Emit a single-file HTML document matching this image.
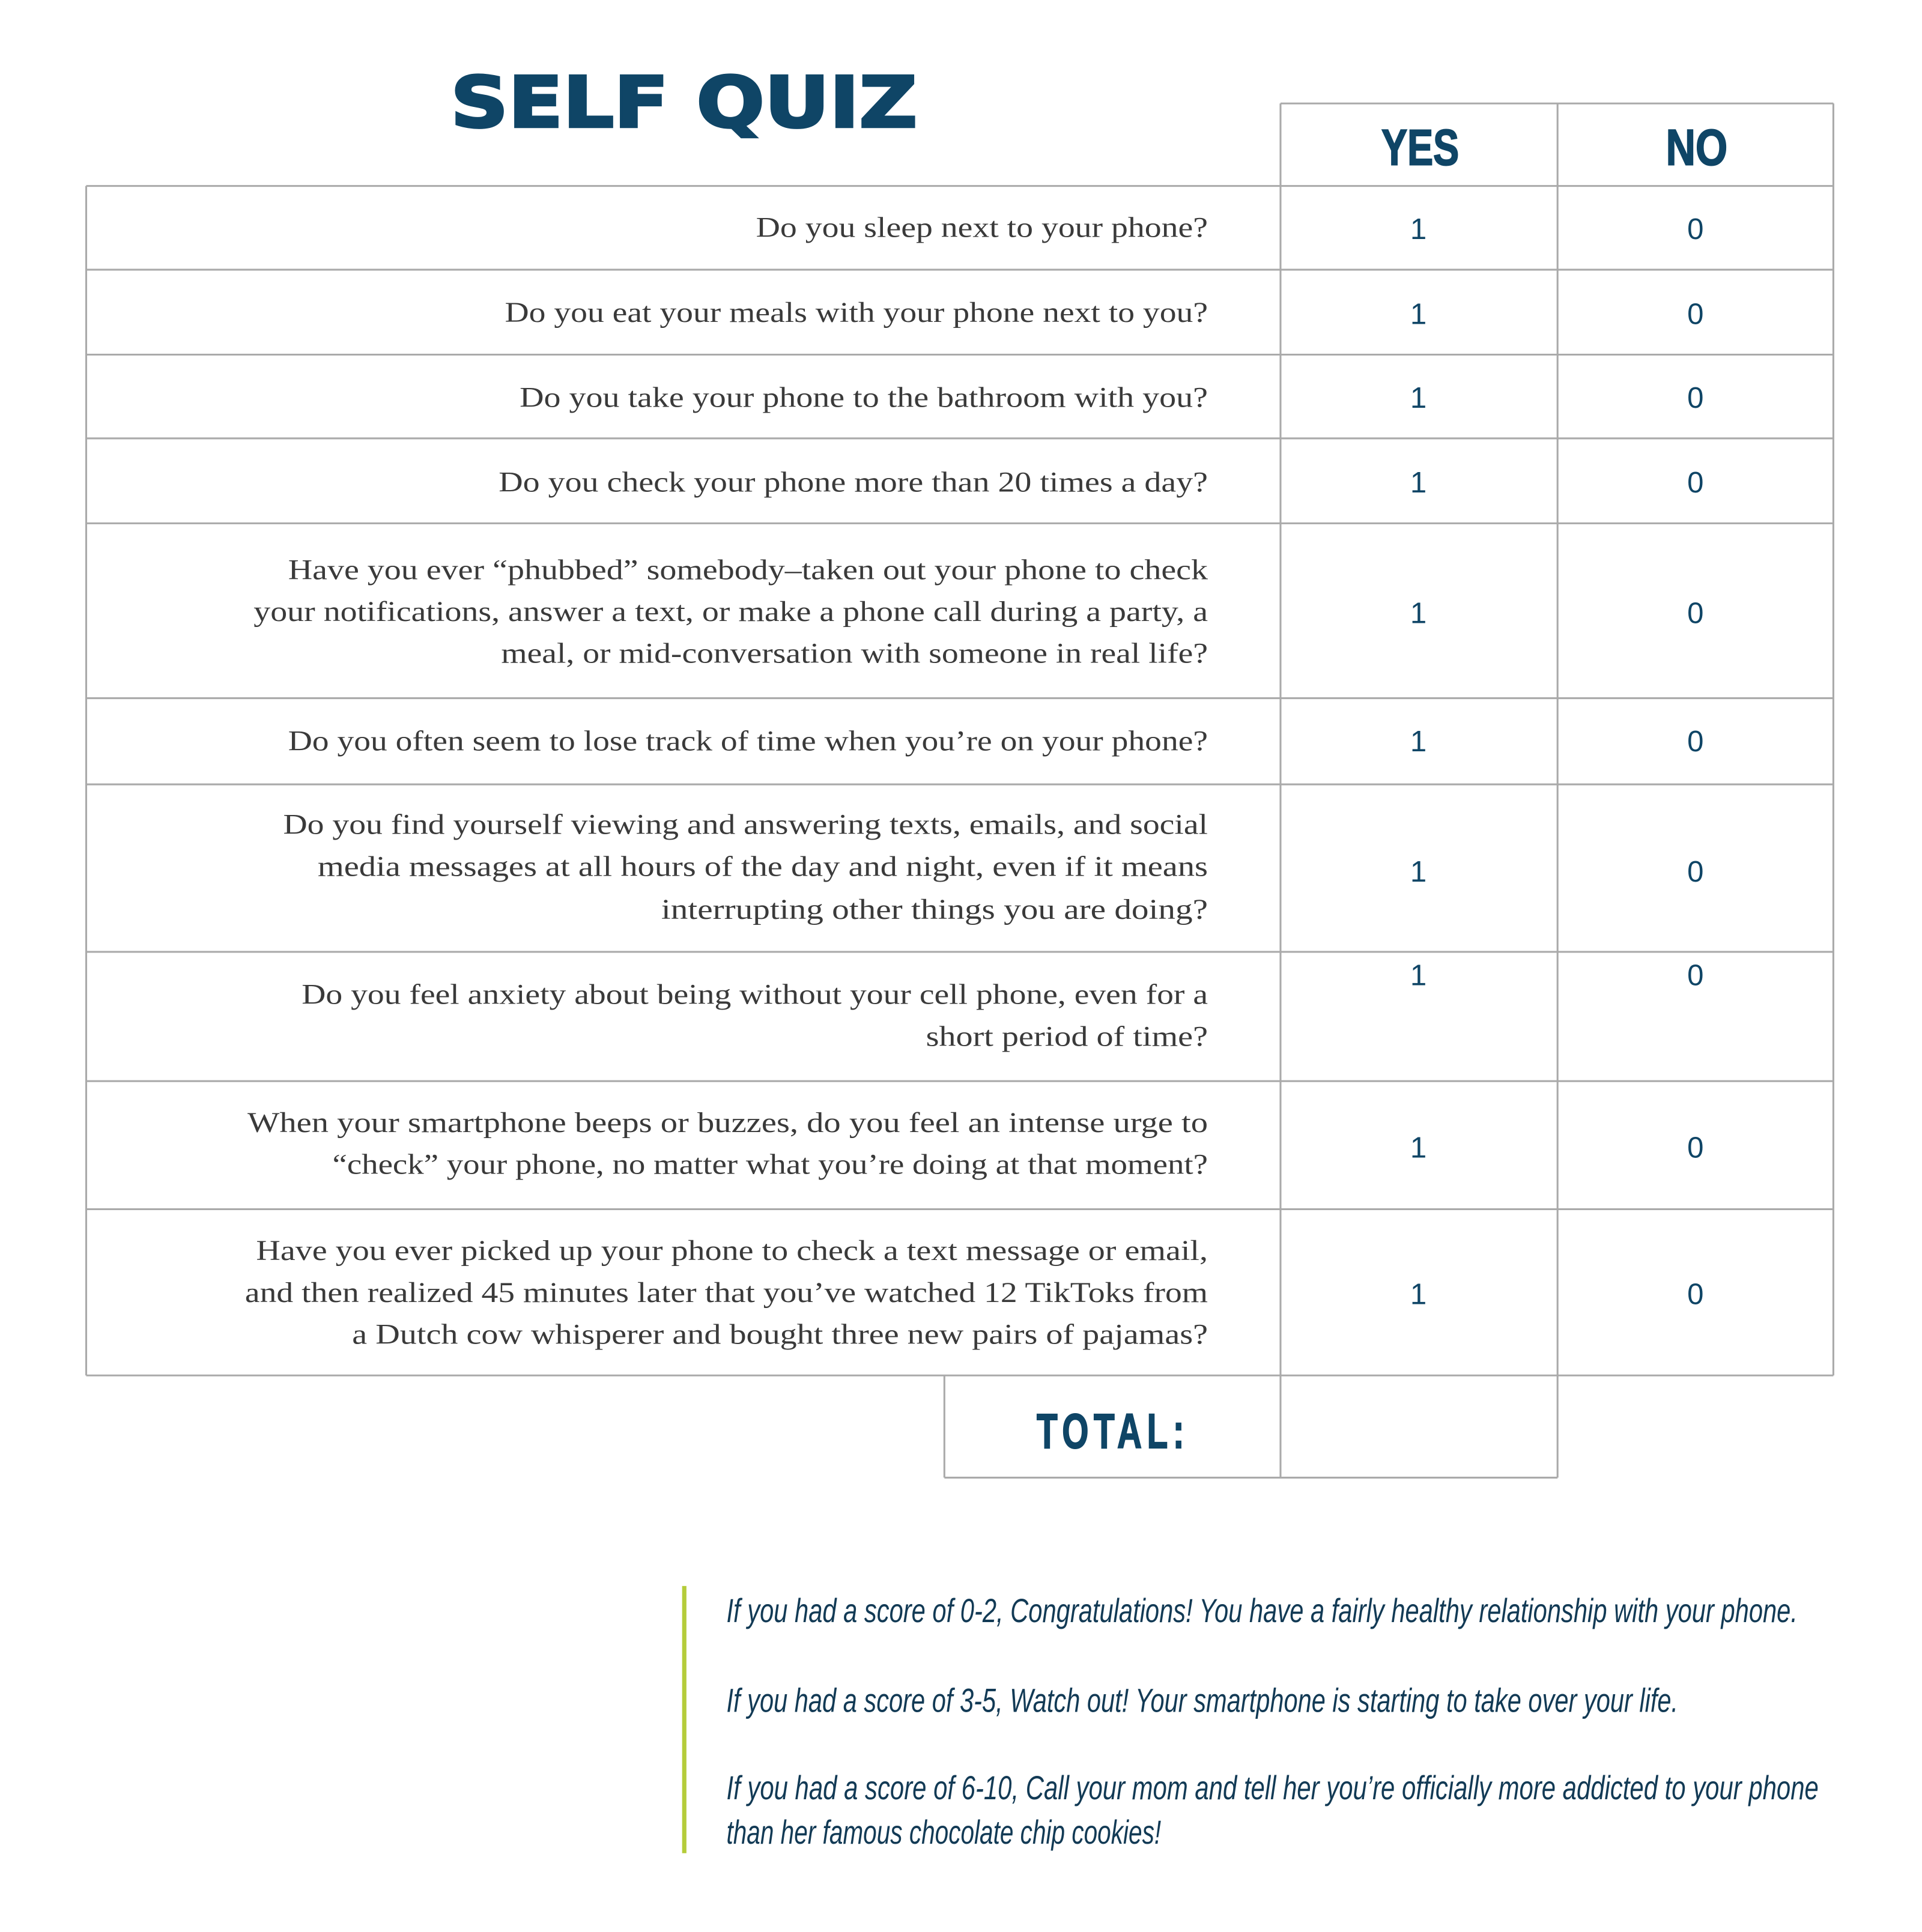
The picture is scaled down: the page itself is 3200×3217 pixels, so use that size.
<!DOCTYPE html>
<html><head><meta charset="utf-8"><style>
html,body{margin:0;padding:0;background:#fff;}
svg{display:block;}
.q{font-family:"Liberation Serif",serif;font-size:23px;fill:#3a3a3a;}
.n{font-family:"Liberation Sans",sans-serif;font-size:24px;fill:#0f4566;text-anchor:middle;}
.h{font-family:"Liberation Sans Narrow","Liberation Sans",sans-serif;font-weight:bold;fill:#0f4566;}
.t{font-family:"Liberation Sans Narrow","Liberation Sans",sans-serif;font-style:italic;font-size:27px;fill:#123a55;}
</style></head><body>
<svg width="3200" height="3217" viewBox="0 0 1561 1569" preserveAspectRatio="none" xmlns="http://www.w3.org/2000/svg">
<g stroke="#aaaaaa" stroke-width="1.5" fill="none">
<line x1="1040" y1="84" x2="1489" y2="84"/>
<line x1="70" y1="151" x2="1489" y2="151"/>
<line x1="70" y1="219" x2="1489" y2="219"/>
<line x1="70" y1="288" x2="1489" y2="288"/>
<line x1="70" y1="356" x2="1489" y2="356"/>
<line x1="70" y1="425" x2="1489" y2="425"/>
<line x1="70" y1="567" x2="1489" y2="567"/>
<line x1="70" y1="637" x2="1489" y2="637"/>
<line x1="70" y1="773" x2="1489" y2="773"/>
<line x1="70" y1="878" x2="1489" y2="878"/>
<line x1="70" y1="982" x2="1489" y2="982"/>
<line x1="70" y1="1117" x2="1489" y2="1117"/>
<line x1="767" y1="1200" x2="1265" y2="1200"/>
<line x1="70" y1="151" x2="70" y2="1117"/>
<line x1="1040" y1="84" x2="1040" y2="1200"/>
<line x1="1265" y1="84" x2="1265" y2="1200"/>
<line x1="1489" y1="84" x2="1489" y2="1117"/>
<line x1="767" y1="1117" x2="767" y2="1200"/>
</g>
<text x="366" y="103" textLength="379" lengthAdjust="spacingAndGlyphs" style="font-family:'DejaVu Sans','Liberation Sans',sans-serif;font-weight:900;font-size:57px;fill:#0f4566;stroke:#0f4566;stroke-width:2">SELF QUIZ</text>
<text class="h" x="1122" y="134" textLength="63" lengthAdjust="spacingAndGlyphs" font-size="41" stroke="#0f4566" stroke-width="1">YES</text>
<text class="h" x="1353" y="134" textLength="50" lengthAdjust="spacingAndGlyphs" font-size="41" stroke="#0f4566" stroke-width="1">NO</text>
<text class="h" x="842" y="1176" textLength="124" lengthAdjust="spacingAndGlyphs" font-size="40" letter-spacing="6" stroke="#0f4566" stroke-width="1">TOTAL:</text>
<g dominant-baseline="central">
<text class="q" x="614" y="185" textLength="367" lengthAdjust="spacingAndGlyphs">Do you sleep next to your phone?</text>
<text class="q" x="410" y="254" textLength="571" lengthAdjust="spacingAndGlyphs">Do you eat your meals with your phone next to you?</text>
<text class="q" x="422" y="323" textLength="559" lengthAdjust="spacingAndGlyphs">Do you take your phone to the bathroom with you?</text>
<text class="q" x="405" y="392" textLength="576" lengthAdjust="spacingAndGlyphs">Do you check your phone more than 20 times a day?</text>
<text class="q" x="234" y="463" textLength="747" lengthAdjust="spacingAndGlyphs">Have you ever “phubbed” somebody–taken out your phone to check</text>
<text class="q" x="206" y="497" textLength="775" lengthAdjust="spacingAndGlyphs">your notifications, answer a text, or make a phone call during a party, a</text>
<text class="q" x="407" y="531" textLength="574" lengthAdjust="spacingAndGlyphs">meal, or mid-conversation with someone in real life?</text>
<text class="q" x="234" y="602" textLength="747" lengthAdjust="spacingAndGlyphs">Do you often seem to lose track of time when you’re on your phone?</text>
<text class="q" x="230" y="670" textLength="751" lengthAdjust="spacingAndGlyphs">Do you find yourself viewing and answering texts, emails, and social</text>
<text class="q" x="258" y="704" textLength="723" lengthAdjust="spacingAndGlyphs">media messages at all hours of the day and night, even if it means</text>
<text class="q" x="537" y="739" textLength="444" lengthAdjust="spacingAndGlyphs">interrupting other things you are doing?</text>
<text class="q" x="245" y="808" textLength="736" lengthAdjust="spacingAndGlyphs">Do you feel anxiety about being without your cell phone, even for a</text>
<text class="q" x="752" y="842" textLength="229" lengthAdjust="spacingAndGlyphs">short period of time?</text>
<text class="q" x="201" y="912" textLength="780" lengthAdjust="spacingAndGlyphs">When your smartphone beeps or buzzes, do you feel an intense urge to</text>
<text class="q" x="270" y="946" textLength="711" lengthAdjust="spacingAndGlyphs">“check” your phone, no matter what you’re doing at that moment?</text>
<text class="q" x="208" y="1016" textLength="773" lengthAdjust="spacingAndGlyphs">Have you ever picked up your phone to check a text message or email,</text>
<text class="q" x="199" y="1050" textLength="782" lengthAdjust="spacingAndGlyphs">and then realized 45 minutes later that you’ve watched 12 TikToks from</text>
<text class="q" x="286" y="1084" textLength="695" lengthAdjust="spacingAndGlyphs">a Dutch cow whisperer and bought three new pairs of pajamas?</text>
<text class="n" x="1152" y="186">1</text><text class="n" x="1377" y="186">0</text>
<text class="n" x="1152" y="255">1</text><text class="n" x="1377" y="255">0</text>
<text class="n" x="1152" y="323">1</text><text class="n" x="1377" y="323">0</text>
<text class="n" x="1152" y="392">1</text><text class="n" x="1377" y="392">0</text>
<text class="n" x="1152" y="498">1</text><text class="n" x="1377" y="498">0</text>
<text class="n" x="1152" y="602">1</text><text class="n" x="1377" y="602">0</text>
<text class="n" x="1152" y="708">1</text><text class="n" x="1377" y="708">0</text>
<text class="n" x="1152" y="792">1</text><text class="n" x="1377" y="792">0</text>
<text class="n" x="1152" y="932">1</text><text class="n" x="1377" y="932">0</text>
<text class="n" x="1152" y="1051">1</text><text class="n" x="1377" y="1051">0</text>
<text class="t" x="590" y="1308" textLength="870" lengthAdjust="spacingAndGlyphs">If you had a score of 0-2, Congratulations! You have a fairly healthy relationship with your phone.</text>
<text class="t" x="590" y="1381" textLength="773" lengthAdjust="spacingAndGlyphs">If you had a score of 3-5, Watch out! Your smartphone is starting to take over your life.</text>
<text class="t" x="590" y="1452" textLength="887" lengthAdjust="spacingAndGlyphs">If you had a score of 6-10, Call your mom and tell her you’re officially more addicted to your phone</text>
<text class="t" x="590" y="1488" textLength="353" lengthAdjust="spacingAndGlyphs">than her famous chocolate chip cookies!</text>
</g>
<rect x="554" y="1288" width="3.5" height="217" fill="#b5cc3a"/>
</svg>
</body></html>
